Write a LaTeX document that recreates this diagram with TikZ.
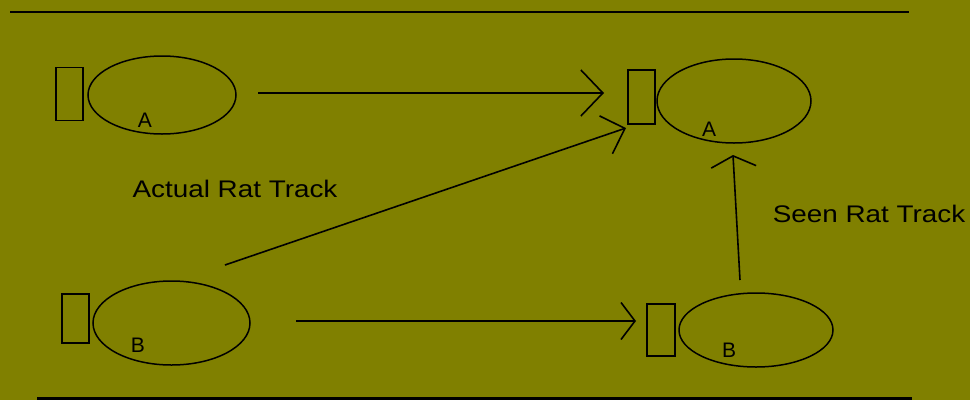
\documentclass[tikz,border=0pt]{standalone}
\usepackage{fontspec}
\setmainfont{Liberation Sans}
\usetikzlibrary{shapes.geometric,arrows.meta}
\definecolor{olivebg}{RGB}{128,128,0}
\begin{document}
\begin{tikzpicture}[x=1pt,y=-1pt,
  rbox/.style={draw=black,line width=1.6pt,minimum width=27pt,minimum height=53pt,inner sep=0pt},
  cell/.style={draw=black,line width=1.5pt,ellipse,inner sep=0pt},
  lbl/.style={font=\fontsize{21}{21}\selectfont,inner sep=0pt},
  captext/.style={font=\fontsize{24}{24}\selectfont\addfontfeature{FakeStretch=1.16},inner sep=0pt},
  arr/.style={draw=black,line width=1.6pt,line join=miter},
  rulestyle/.style={draw=black,line width=2.6pt}]
\useasboundingbox[fill=olivebg] (0,0) rectangle (970,400);
% rules
\coordinate (t1) at (10,12); \coordinate (t2) at (909,12);
\coordinate (b1) at (37,398); \coordinate (b2) at (912,398);
\draw[rulestyle] (t1) -- (t2);
\draw[rulestyle,line width=3pt] (b1) -- (b2);
% top left
\node[rbox] (bA1) at (69.5,94) {};
\node[cell,minimum width=148pt,minimum height=78pt] (eA1) at (162,95) {};
\node[lbl] (lA1) at (145,120) {A};
% top right
\node[rbox,minimum height=54pt] (bA2) at (641.5,97) {};
\node[cell,minimum width=154pt,minimum height=84pt] (eA2) at (734,101) {};
\node[lbl] (lA2) at (709,129) {A};
% bottom left
\node[rbox,minimum height=49pt] (bB1) at (75.5,318.5) {};
\node[cell,minimum width=157pt,minimum height=84pt] (eB1) at (171.5,323) {};
\node[lbl] (lB1) at (138,345) {B};
% bottom right
\node[rbox,minimum width=28pt,minimum height=52pt] (bB2) at (661,330) {};
\node[cell,minimum width=154pt,minimum height=74pt] (eB2) at (756,330) {};
\node[lbl] (lB2) at (729,350) {B};
% captions
\node[captext] (c1) at (235,189) {Actual Rat Track};
\node[captext] (c2) at (869,214) {Seen Rat Track};
% arrow end points
\coordinate (s1) at (258,93); \coordinate (e1) at (604,93);
\coordinate (s2) at (225,265); \coordinate (e2) at (626,128);
\coordinate (s3) at (296,321); \coordinate (e3) at (636,321);
\coordinate (s4) at (740,280); \coordinate (e4) at (733,155);
\draw[arr,-{Straight Barb[length=22pt,width=46pt]}] (s1) -- (e1);
\draw[arr,-{Straight Barb[length=20pt,width=40pt]}] (s2) -- (e2);
\draw[arr,-{Straight Barb[length=14pt,width=37pt]}] (s3) -- (e3);
\draw[arr,-{Straight Barb[length=11pt,width=45pt]}] (s4) -- (e4);
\end{tikzpicture}
\end{document}
